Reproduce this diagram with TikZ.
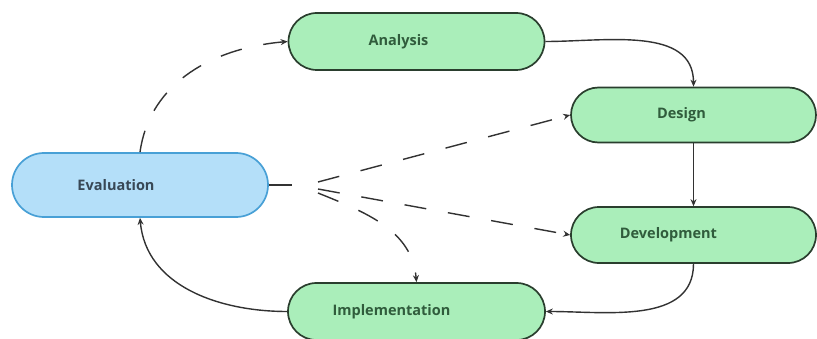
\documentclass[tikz,border=0pt]{standalone}
\usepackage{fontspec}
\setmainfont{Open Sans}
\usetikzlibrary{shapes.misc,arrows.meta}

\definecolor{stagefill}{RGB}{170,238,186}
\definecolor{stageline}{RGB}{42,62,46}
\definecolor{stagetext}{RGB}{48,92,60}
\definecolor{evalfill}{RGB}{180,223,249}
\definecolor{evalline}{RGB}{72,160,214}
\definecolor{evaltext}{RGB}{56,72,86}
\definecolor{flowline}{RGB}{50,50,50}

\tikzset{
  stage/.style={rounded rectangle, draw=stageline, fill=stagefill, line width=1.7pt,
    minimum width=256pt, minimum height=57pt, inner sep=0pt},
  evalbox/.style={stage, draw=evalline, fill=evalfill, minimum height=64pt},
  every label/.style={font=\fontsize{14.5}{16}\selectfont\bfseries, text=stagetext},
  flow/.style={line width=1.4pt, draw=flowline, -{Stealth[length=7pt,width=6pt]}},
  back/.style={flow, dash pattern=on 22pt off 22pt},
  stub/.style={line width=2.2pt, draw=flowline}
}

\begin{document}
\begin{tikzpicture}[x=1pt,y=1pt]
  \clip (0,0) rectangle (817,338);
  \fill[white] (0,0) rectangle (817,338);

  % stages of the cycle
  \node[evalbox, label={[xshift=-24pt,text=evaltext]center:Evaluation}] (eval) at (140,153) {};
  \node[stage, label={[xshift=-18pt]center:Analysis}] (analysis) at (416.5,296.5) {};
  \node[stage, minimum width=245pt, minimum height=55pt, label={[xshift=-12pt]center:Design}] (design) at (693.5,223) {};
  \node[stage, minimum width=245pt, minimum height=56pt, label={[xshift=-25pt]center:Development}] (develop) at (693.5,103) {};
  \node[stage, minimum width=257pt, label={[xshift=-25pt]center:Implementation}] (impl) at (416.5,26.5) {};

  % main cycle
  \draw[flow] (analysis.east) to[out=0,in=90] (design.north);
  \draw[flow] (design.south) -- (develop.north);
  \draw[flow] (develop.south) to[out=-90,in=0] (impl.east);
  \draw[flow] (impl.west) to[out=180,in=-85] (eval.south);
  \draw[back] (eval.north) to[out=82,in=185] (analysis.west);

  % feedback from evaluation
  \coordinate (stubend) at (292,153);
  \coordinate (fan) at (318,152);
  \draw[stub] (eval.east) -- (stubend);
  \draw[back] ([yshift=4pt]fan) -- (design.west);
  \draw[back] ([yshift=-3pt]fan) -- (develop.west);
  \draw[back] ([yshift=-7pt]fan) to[out=-22,in=95] (impl.north);
\end{tikzpicture}
\end{document}
